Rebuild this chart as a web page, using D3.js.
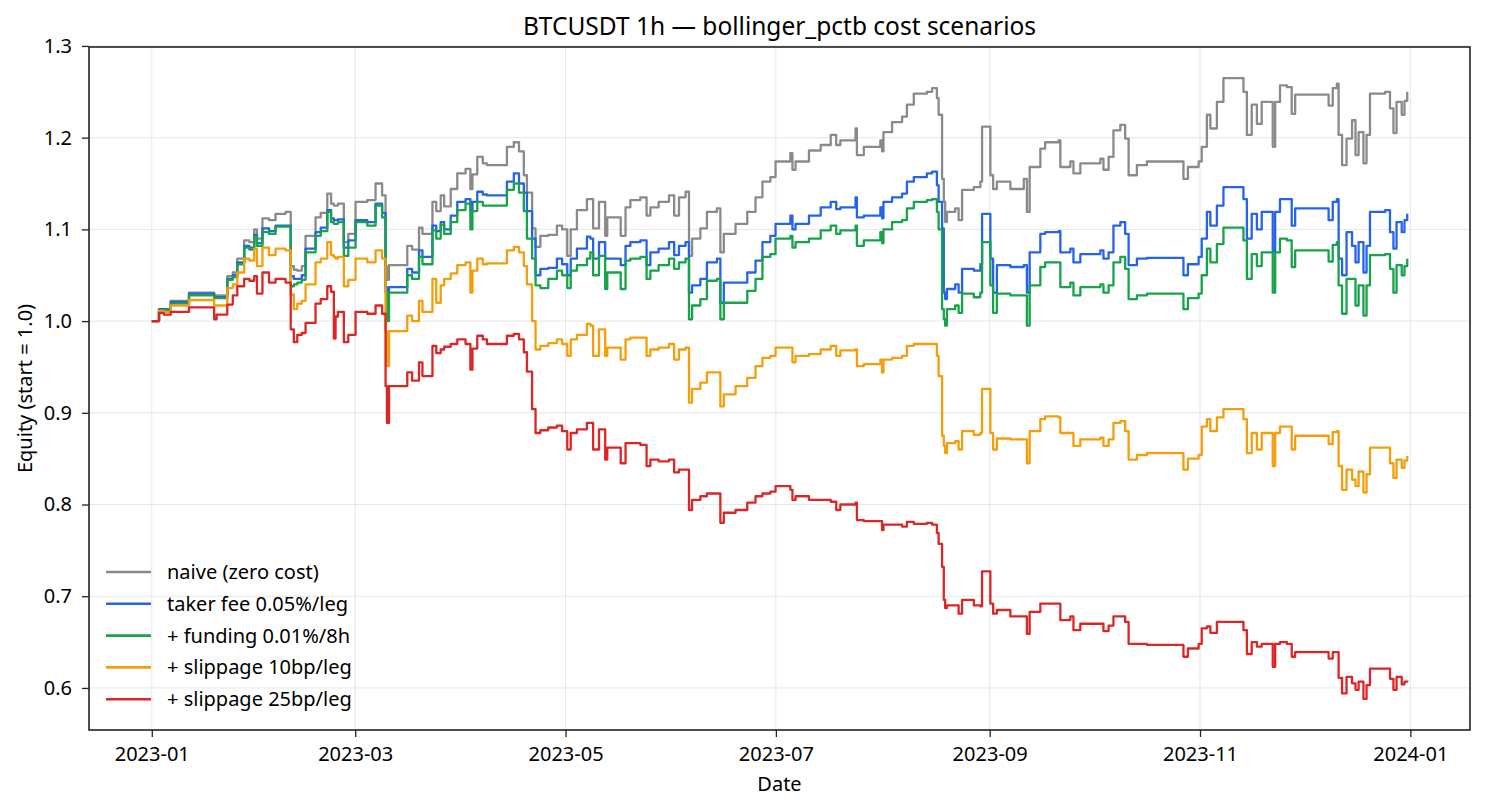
<!DOCTYPE html>
<html>
<head>
<meta charset="utf-8">
<script src="https://cdn.jsdelivr.net/npm/d3@7"></script>
<style>
  html, body { margin: 0; padding: 0; background: #fff; }
  svg text { font-family: "Noto Sans", "DejaVu Sans", sans-serif; fill: #000; }
</style>
</head>
<body>
<div id="chart"></div>
<script>
// equity curves; days counted from 2023-01-01 (hourly bars, stepwise)
const startDate = Date.UTC(2023, 0, 1);

const days = [
  0, 2.1, 3.5, 5.5, 10.8, 18.1, 18.8, 21.9, 23.5, 24.8, 26.8, 28.3, 29.7, 30.5, 32.1, 34, 35.9, 38.8,
  40.3, 41.2, 42.2, 43.5, 44.6, 47.5, 49, 50.9, 52, 52.8, 53.3, 54, 55.7, 57, 59.1, 62.5, 64.9, 66.8,
  67.8, 68.2, 68.8, 74.1, 75.5, 77.5, 78.5, 81.4, 82.5, 83.8, 84.8, 86.7, 88.6, 91, 92.4, 93, 94.4, 96,
  97.2, 103, 105, 106.5, 107.9, 108.8, 110.3, 111.3, 112.7, 115, 117.5, 119, 120.5, 121.5, 123.3, 126.2,
  127.2, 128, 129.7, 131.5, 132.1, 136, 137.4, 138.8, 141.7, 143.5, 144.6, 147, 150, 151.5, 152.9, 154.8,
  155.8, 156.7, 159.1, 161, 163.9, 164.9, 165.9, 169.3, 172.7, 175.1, 177.1, 179.4, 180.9, 185.2, 185.8,
  186.7, 190.6, 194, 196.9, 198.5, 199.7, 204.1, 204.5, 206.5, 211.3, 211.8, 212.2, 214.7, 217.6, 219,
  221, 224.8, 226.3, 227.7, 228.2, 229.2, 229.7, 230.1, 230.6, 233, 234, 235, 238.4, 240.3, 240.8, 243.2,
  244, 245.1, 249, 252.9, 253.8, 254.6, 257.7, 259.1, 263, 263.5, 266.4, 267.3, 269.3, 275.1, 276, 277.5,
  278.9, 280.9, 282.3, 283.3, 285.7, 288.6, 299.2, 300.5, 303.6, 304.5, 306, 307, 308.9, 310.8, 316.6,
  317.6, 319, 320.5, 321.9, 325.1, 325.8, 327.2, 329.2, 330.6, 331.6, 341.3, 342.5, 343.7, 344.2, 345.2,
  346.5, 348.1, 349.1, 350, 351.4, 352.3, 353.3, 357.7, 359.1, 360.1, 361, 362.5, 363.3, 364.1
];

const naive = [
  1.000, 1.013, 1.013, 1.022, 1.031, 1.028, 1.028, 1.049, 1.053, 1.068, 1.088, 1.086, 1.100, 1.090, 1.112, 1.110, 1.117, 1.119,
  1.060, 1.056, 1.055, 1.060, 1.093, 1.113, 1.118, 1.139, 1.128, 1.126, 1.126, 1.128, 1.086, 1.095, 1.130, 1.132, 1.150, 1.137,
  1.060, 1.045, 1.061, 1.082, 1.078, 1.102, 1.095, 1.130, 1.120, 1.137, 1.125, 1.144, 1.161, 1.166, 1.144, 1.160, 1.179, 1.172,
  1.170, 1.190, 1.195, 1.185, 1.159, 1.140, 1.101, 1.081, 1.093, 1.094, 1.104, 1.100, 1.071, 1.100, 1.121, 1.133,
  1.133, 1.101, 1.130, 1.093, 1.113, 1.093, 1.124, 1.132, 1.135, 1.115, 1.124, 1.130, 1.137, 1.115, 1.135, 1.141,
  1.071, 1.090, 1.101, 1.119, 1.123, 1.075, 1.095, 1.106, 1.119, 1.135, 1.152, 1.157, 1.174, 1.183, 1.165,
  1.174, 1.186, 1.192, 1.203, 1.192, 1.197, 1.210, 1.181, 1.190, 1.197, 1.185, 1.206, 1.217, 1.223, 1.236,
  1.248, 1.250, 1.254, 1.243, 1.225, 1.155, 1.130, 1.108, 1.119, 1.123, 1.110, 1.143, 1.146, 1.152, 1.212, 1.159,
  1.144, 1.152, 1.144, 1.155, 1.119, 1.168, 1.188, 1.195, 1.197, 1.168, 1.174, 1.161, 1.172, 1.177, 1.165, 1.179,
  1.208, 1.214, 1.199, 1.159, 1.170, 1.174, 1.155, 1.168, 1.174, 1.190, 1.225, 1.210, 1.239, 1.265, 1.250,
  1.203, 1.236, 1.215, 1.239, 1.190, 1.239, 1.257, 1.255, 1.226, 1.247, 1.235, 1.254, 1.259, 1.203, 1.170,
  1.199, 1.219, 1.181, 1.206, 1.172, 1.203, 1.248, 1.250, 1.232, 1.205, 1.239, 1.225, 1.240, 1.250
];

const takerFee = [
  1.000, 1.013, 1.013, 1.021, 1.030, 1.026, 1.026, 1.046, 1.050, 1.064, 1.082, 1.080, 1.094, 1.085, 1.101, 1.098, 1.104, 1.104,
  1.049, 1.046, 1.046, 1.050, 1.079, 1.097, 1.102, 1.121, 1.112, 1.110, 1.110, 1.111, 1.080, 1.088, 1.110, 1.108, 1.128, 1.118,
  1.037, 1.030, 1.037, 1.057, 1.053, 1.077, 1.070, 1.104, 1.098, 1.108, 1.100, 1.115, 1.130, 1.133, 1.120, 1.130, 1.141, 1.138,
  1.137, 1.152, 1.161, 1.150, 1.140, 1.120, 1.090, 1.050, 1.057, 1.058, 1.068, 1.062, 1.050, 1.068, 1.079, 1.092,
  1.090, 1.068, 1.086, 1.068, 1.068, 1.061, 1.082, 1.086, 1.088, 1.061, 1.075, 1.079, 1.086, 1.072, 1.082, 1.086,
  1.031, 1.039, 1.046, 1.064, 1.068, 1.020, 1.042, 1.042, 1.053, 1.066, 1.086, 1.093, 1.106, 1.115, 1.100,
  1.106, 1.115, 1.124, 1.130, 1.122, 1.124, 1.135, 1.113, 1.115, 1.124, 1.112, 1.130, 1.135, 1.139, 1.152,
  1.157, 1.161, 1.163, 1.148, 1.130, 1.101, 1.031, 1.024, 1.035, 1.040, 1.031, 1.057, 1.055, 1.062, 1.117, 1.068,
  1.031, 1.061, 1.059, 1.061, 1.031, 1.075, 1.095, 1.097, 1.098, 1.075, 1.079, 1.064, 1.073, 1.077, 1.068, 1.075,
  1.104, 1.108, 1.095, 1.061, 1.068, 1.069, 1.050, 1.062, 1.070, 1.090, 1.119, 1.104, 1.126, 1.146, 1.133,
  1.090, 1.117, 1.100, 1.119, 1.075, 1.119, 1.133, 1.133, 1.104, 1.123, 1.110, 1.130, 1.133, 1.068, 1.050,
  1.097, 1.082, 1.064, 1.086, 1.053, 1.082, 1.119, 1.121, 1.097, 1.079, 1.108, 1.097, 1.110, 1.117
];

const funding = [
  1.000, 1.012, 1.012, 1.019, 1.028, 1.025, 1.025, 1.045, 1.048, 1.062, 1.080, 1.078, 1.092, 1.082, 1.097, 1.095, 1.103, 1.103,
  1.038, 1.040, 1.042, 1.045, 1.075, 1.093, 1.098, 1.119, 1.108, 1.106, 1.106, 1.108, 1.071, 1.080, 1.108, 1.104, 1.126, 1.113,
  1.031, 1.000, 1.031, 1.050, 1.046, 1.070, 1.062, 1.099, 1.090, 1.105, 1.095, 1.108, 1.121, 1.128, 1.100, 1.120, 1.130, 1.126,
  1.126, 1.143, 1.150, 1.140, 1.120, 1.090, 1.068, 1.039, 1.036, 1.046, 1.055, 1.050, 1.036, 1.055, 1.061, 1.068,
  1.075, 1.050, 1.071, 1.035, 1.053, 1.035, 1.066, 1.068, 1.070, 1.046, 1.055, 1.061, 1.068, 1.057, 1.064, 1.068,
  1.002, 1.017, 1.024, 1.044, 1.046, 1.002, 1.020, 1.020, 1.033, 1.046, 1.070, 1.073, 1.090, 1.093, 1.080,
  1.086, 1.090, 1.099, 1.104, 1.095, 1.099, 1.104, 1.082, 1.088, 1.097, 1.085, 1.100, 1.108, 1.110, 1.123,
  1.130, 1.132, 1.133, 1.119, 1.100, 1.013, 1.002, 0.995, 1.013, 1.017, 1.009, 1.030, 1.026, 1.031, 1.086, 1.039,
  1.009, 1.030, 1.028, 1.028, 0.995, 1.039, 1.059, 1.064, 1.064, 1.037, 1.042, 1.028, 1.037, 1.040, 1.031, 1.039,
  1.064, 1.070, 1.057, 1.024, 1.028, 1.030, 1.013, 1.025, 1.030, 1.050, 1.079, 1.064, 1.084, 1.102, 1.088,
  1.046, 1.073, 1.060, 1.075, 1.031, 1.075, 1.090, 1.088, 1.059, 1.077, 1.065, 1.083, 1.086, 1.039, 1.008,
  1.046, 1.046, 1.017, 1.039, 1.006, 1.039, 1.072, 1.073, 1.057, 1.031, 1.061, 1.050, 1.060, 1.068
];

const slip10 = [
  1.000, 1.011, 1.010, 1.017, 1.023, 1.017, 1.017, 1.036, 1.040, 1.053, 1.068, 1.066, 1.079, 1.060, 1.080, 1.072, 1.079, 1.077,
  1.029, 1.013, 1.019, 1.022, 1.040, 1.064, 1.068, 1.086, 1.072, 1.070, 1.068, 1.070, 1.038, 1.045, 1.068, 1.064, 1.077, 1.068,
  0.989, 0.951, 0.989, 1.006, 1.000, 1.022, 1.010, 1.046, 1.020, 1.039, 1.046, 1.052, 1.061, 1.064, 1.031, 1.055, 1.068, 1.062,
  1.063, 1.077, 1.081, 1.075, 1.060, 1.040, 1.000, 0.969, 0.973, 0.976, 0.980, 0.975, 0.962, 0.980, 0.985, 0.997,
  0.995, 0.962, 0.991, 0.962, 0.971, 0.958, 0.980, 0.982, 0.982, 0.962, 0.969, 0.971, 0.975, 0.958, 0.969, 0.971,
  0.911, 0.926, 0.933, 0.944, 0.944, 0.907, 0.920, 0.929, 0.938, 0.951, 0.960, 0.962, 0.971, 0.971, 0.955,
  0.962, 0.964, 0.969, 0.973, 0.962, 0.968, 0.969, 0.951, 0.953, 0.958, 0.944, 0.958, 0.960, 0.962, 0.973,
  0.975, 0.975, 0.975, 0.962, 0.940, 0.875, 0.864, 0.856, 0.867, 0.869, 0.860, 0.880, 0.876, 0.878, 0.926, 0.878,
  0.860, 0.872, 0.871, 0.871, 0.845, 0.880, 0.893, 0.896, 0.895, 0.878, 0.878, 0.864, 0.871, 0.873, 0.864, 0.871,
  0.889, 0.891, 0.880, 0.849, 0.854, 0.856, 0.838, 0.850, 0.854, 0.885, 0.893, 0.880, 0.895, 0.904, 0.893,
  0.856, 0.878, 0.860, 0.878, 0.842, 0.878, 0.885, 0.885, 0.860, 0.875, 0.866, 0.879, 0.880, 0.842, 0.816,
  0.838, 0.827, 0.820, 0.836, 0.813, 0.833, 0.862, 0.862, 0.845, 0.829, 0.849, 0.840, 0.848, 0.853
];

const slip25 = [
  1.000, 1.009, 1.007, 1.010, 1.015, 1.002, 1.007, 1.018, 1.028, 1.038, 1.046, 1.044, 1.049, 1.030, 1.053, 1.042, 1.046, 1.042,
  0.991, 0.977, 0.985, 0.987, 0.998, 1.019, 1.024, 1.038, 1.032, 0.981, 1.005, 1.010, 0.977, 0.985, 1.010, 1.008, 1.017, 1.008,
  0.929, 0.889, 0.929, 0.944, 0.935, 0.955, 0.940, 0.973, 0.965, 0.969, 0.972, 0.975, 0.980, 0.975, 0.947, 0.970, 0.984, 0.980,
  0.975, 0.984, 0.986, 0.980, 0.966, 0.945, 0.904, 0.878, 0.881, 0.884, 0.886, 0.880, 0.860, 0.878, 0.882, 0.889,
  0.889, 0.860, 0.882, 0.849, 0.862, 0.845, 0.867, 0.867, 0.865, 0.842, 0.849, 0.847, 0.849, 0.835, 0.838, 0.838,
  0.794, 0.805, 0.809, 0.812, 0.812, 0.780, 0.791, 0.794, 0.802, 0.809, 0.812, 0.814, 0.820, 0.816, 0.805,
  0.809, 0.805, 0.805, 0.803, 0.794, 0.800, 0.802, 0.783, 0.782, 0.782, 0.772, 0.778, 0.778, 0.776, 0.781,
  0.779, 0.780, 0.778, 0.769, 0.757, 0.732, 0.696, 0.687, 0.690, 0.690, 0.681, 0.696, 0.690, 0.689, 0.727, 0.692,
  0.681, 0.685, 0.678, 0.678, 0.659, 0.683, 0.692, 0.692, 0.692, 0.674, 0.678, 0.663, 0.670, 0.670, 0.662, 0.668,
  0.678, 0.678, 0.672, 0.648, 0.648, 0.647, 0.634, 0.643, 0.648, 0.665, 0.667, 0.660, 0.672, 0.672, 0.663,
  0.637, 0.650, 0.645, 0.648, 0.623, 0.648, 0.650, 0.648, 0.634, 0.639, 0.632, 0.639, 0.639, 0.611, 0.594,
  0.612, 0.605, 0.598, 0.607, 0.588, 0.603, 0.621, 0.621, 0.610, 0.598, 0.612, 0.604, 0.607, 0.608
];

const seriesNames = [
  "naive (zero cost)",
  "taker fee 0.05%/leg",
  "+ funding 0.01%/8h",
  "+ slippage 10bp/leg",
  "+ slippage 25bp/leg"
];
const seriesValues = [naive, takerFee, funding, slip10, slip25];
const seriesColors = ["#8a8a8a", "#2563eb", "#16a34a", "#f59e0b", "#dc2626"];

const yTicks = [0.6, 0.7, 0.8, 0.9, 1.0, 1.1, 1.2, 1.3];

const titleText = "BTCUSDT 1h \u2014 bollinger_pctb cost scenarios";
const xLabelText = "Date";
const yLabelText = "Equity (start = 1.0)";

// ---- layout
const W = 1485, H = 810;
const margin = { top: 47, right: 15, bottom: 80, left: 89 };
const width = W - margin.left - margin.right;
const height = H - margin.top - margin.bottom;

const dates = days.map(d => new Date(startDate + d * 864e5));
const series = seriesValues.map((vals, i) => ({
  name: seriesNames[i],
  color: seriesColors[i],
  points: vals.map((v, j) => ({ date: dates[j], value: v }))
}));

const svg = d3.select("#chart")
  .append("svg")
  .attr("width", W)
  .attr("height", H)
  .append("g")
  .attr("transform", `translate(${margin.left},${margin.top})`);

// matplotlib-style 5% padding on both axes
const t0 = dates[0], t1 = dates[dates.length - 1];
const tPad = (t1 - t0) * 0.05;
const x = d3.scaleUtc()
  .domain([new Date(+t0 - tPad), new Date(+t1 + tPad)])
  .range([0, width]);

const allVals = seriesValues.flat();
const vMin = d3.min(allVals), vMax = d3.max(allVals);
const vPad = (vMax - vMin) * 0.05;
const y = d3.scaleLinear()
  .domain([vMin - vPad, vMax + vPad])
  .range([height, 0]);

const xTicks = d3.utcMonth.every(2).range(d3.utcMonth.floor(t0), new Date(+t1 + tPad));

// grid
const grid = svg.append("g").attr("stroke", "#b0b0b0").attr("stroke-opacity", 0.3).attr("stroke-width", 1);
grid.selectAll(".gx").data(xTicks).join("line")
  .attr("x1", d => x(d)).attr("x2", d => x(d))
  .attr("y1", 0).attr("y2", height);
grid.selectAll(".gy").data(yTicks).join("line")
  .attr("x1", 0).attr("x2", width)
  .attr("y1", d => y(d)).attr("y2", d => y(d));

// lines
const line = d3.line()
  .curve(d3.curveStepAfter)
  .x(d => x(d.date))
  .y(d => y(d.value));

svg.append("g")
  .selectAll("path")
  .data(series)
  .join("path")
  .attr("fill", "none")
  .attr("stroke", d => d.color)
  .attr("stroke-width", 2.3)
  .attr("stroke-linejoin", "round")
  .attr("d", d => line(d.points));

// axes
const xAxisG = svg.append("g")
  .attr("transform", `translate(0,${height})`)
  .call(d3.axisBottom(x).tickValues(xTicks).tickFormat(d3.utcFormat("%Y-%m")).tickSize(7).tickPadding(10));

const yAxisG = svg.append("g")
  .call(d3.axisLeft(y).tickValues(yTicks).tickFormat(d3.format(".1f")).tickSize(7).tickPadding(10));

[xAxisG, yAxisG].forEach(g => {
  g.select(".domain").remove();
  g.selectAll(".tick line").attr("stroke", "#222").attr("stroke-width", 1.3);
  g.selectAll(".tick text").attr("font-size", 20).attr("fill", "#000");
});

// frame
svg.append("rect")
  .attr("width", width).attr("height", height)
  .attr("fill", "none").attr("stroke", "#222").attr("stroke-width", 1.6);

// labels
svg.append("text")
  .attr("x", width / 2).attr("y", -12)
  .attr("text-anchor", "middle")
  .attr("font-size", 24.5)
  .text(titleText);

svg.append("text")
  .attr("x", width / 2).attr("y", height + 60.5)
  .attr("text-anchor", "middle")
  .attr("font-size", 20)
  .text(xLabelText);

svg.append("text")
  .attr("transform", `translate(${-57},${height / 2}) rotate(-90)`)
  .attr("text-anchor", "middle")
  .attr("font-size", 20)
  .text(yLabelText);

// legend (no frame)
const legend = svg.append("g").attr("transform", `translate(17,${572 - margin.top})`);
const rows = legend.selectAll("g").data(series).join("g")
  .attr("transform", (d, i) => `translate(0,${i * 31.8})`);
rows.append("line")
  .attr("x1", 0).attr("x2", 45)
  .attr("stroke", d => d.color).attr("stroke-width", 2.6);
rows.append("text")
  .attr("x", 61).attr("dy", "0.35em")
  .attr("font-size", 20)
  .text(d => d.name);
</script>
</body>
</html>
